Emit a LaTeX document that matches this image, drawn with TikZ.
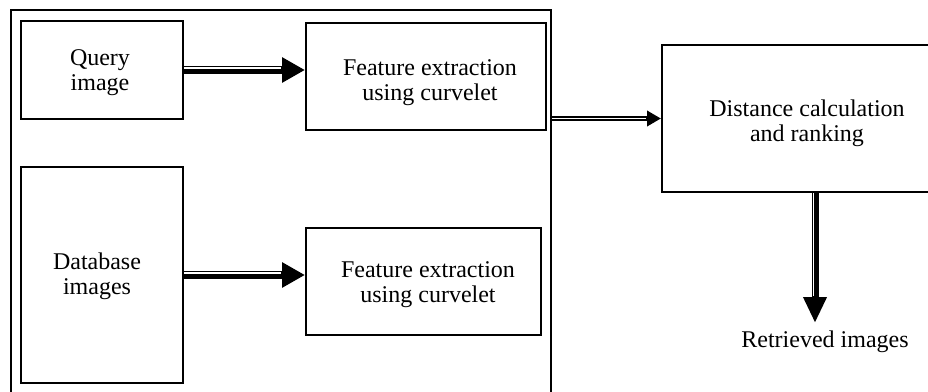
\documentclass[tikz,border=0pt]{standalone}
\usepackage{fontspec}
\setmainfont{Liberation Serif}
\usetikzlibrary{arrows.meta,calc}
\begin{document}
\begin{tikzpicture}[x=1pt,y=-1pt,
  box/.style={draw=black,line width=2pt,minimum width=#1,inner sep=0pt},
  txt/.style={align=center,inner sep=0pt,font=\fontsize{24}{25}\selectfont},
  shaft/.style={line width=8.5pt},
  gap/.style={white,line width=1.5pt}]
\useasboundingbox (0,0) rectangle (928,391);
\clip (0,0) rectangle (928,391);
\node[box=540pt,minimum height=390pt] (outer) at (281,205) {};
\node[box=162pt,minimum height=98pt] (q) at (102,70) {};
\node[box=240pt,minimum height=107pt] (f1) at (426,76.5) {};
\node[box=162pt,minimum height=216pt] (db) at (102,275) {};
\node[box=235pt,minimum height=107pt] (f2) at (423.5,281.5) {};
\node[box=290pt,minimum height=147pt] (dist) at (807,118.5) {};
\node[txt] (qt) at (100,73) {Query\\image};
\node[txt] (f1t) at (430,83) {Feature extraction\\using curvelet};
\node[txt] (dbt) at (97,276) {Database\\images};
\node[txt] (f2t) at (428,285) {Feature extraction\\using curvelet};
\node[txt] (distt) at (807,123) {Distance calculation\\and ranking};
\coordinate (tip) at (815,323);
\node[txt,anchor=north] (ret) at (825,331) {Retrieved images};
% arrows
\draw[shaft,-{Triangle[length=23pt,width=24pt]}] (q.east) -- (f1.west |- q.east);
\draw[gap,shorten >=24pt] ([yshift=2pt]q.east) -- ([yshift=2pt]f1.west |- q.east);
\draw[shaft,-{Triangle[length=23pt,width=24pt]}] (db.east) -- (f2.west |- db.east);
\draw[gap,shorten >=24pt] ([yshift=2pt]db.east) -- ([yshift=2pt]f2.west |- db.east);
\draw[line width=5pt,-{Triangle[length=14pt,width=15pt]}] (outer.east |- dist.west) -- (dist.west);
\draw[white,line width=1.4pt,shorten >=15pt] ([yshift=0.3pt]outer.east |- dist.west) -- ([yshift=0.3pt]dist.west);
\draw[line width=7pt,-{Triangle[length=26pt,width=22pt]}] (dist.south -| tip) -- (tip);
\draw[white,line width=1.2pt,shorten >=27pt] ([xshift=-1.6pt]dist.south -| tip) -- ([xshift=-1.6pt]tip);
\end{tikzpicture}
\end{document}
